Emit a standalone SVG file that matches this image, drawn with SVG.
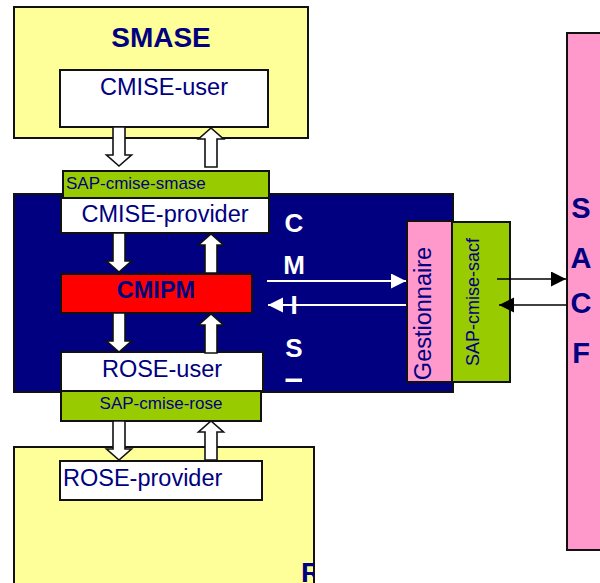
<svg xmlns="http://www.w3.org/2000/svg" xmlns:xlink="http://www.w3.org/1999/xlink" width="600" height="583" viewBox="0 0 600 583">
<style>
text{font-family:"Liberation Sans",Arial,sans-serif;fill:#000080}
.box{stroke:#111;stroke-width:2}
.yel{fill:#FFFF99}
.wht{fill:#fff}
.grn{fill:#99CC00}
.pnk{fill:#FF99CC}
.navy{fill:#000080}
.red{fill:#FF0000}
.blk{stroke:#111;stroke-width:1.6;fill:#fff}
.lbl{font-size:23.5px}
.sap{font-size:17px}
.bold{font-weight:bold}
.wl{fill:#fff;font-weight:bold;font-size:26px}
.sl{font-weight:bold;font-size:29px}
.wline{stroke:#fff;stroke-width:2;fill:none}
.kline{stroke:#000;stroke-width:1.6;fill:none}
</style>
<defs>
<path id="dn" d="M-6,0 H6 V28 H12.5 L0,39 L-12.5,28 H-6 Z"/>
<path id="up" d="M-6,39 H6 V11 H12.5 L0,0 L-12.5,11 H-6 Z"/>
<marker id="mw" markerUnits="userSpaceOnUse" markerWidth="16" markerHeight="16" refX="15" refY="7.5" orient="auto"><path d="M0,0 L15,7.5 L0,15 Z" fill="#fff"/></marker>
<marker id="mk" markerUnits="userSpaceOnUse" markerWidth="16" markerHeight="16" refX="15" refY="7.5" orient="auto"><path d="M0,0 L15,7.5 L0,15 Z" fill="#000"/></marker>
<clipPath id="rclip"><rect x="14" y="447" width="300" height="140"/></clipPath>
</defs>

<g id="smase">
<rect class="box yel" x="14" y="7" width="294" height="131"/>
<text class="bold" x="161" y="47" font-size="28" text-anchor="middle">SMASE</text>
</g>
<g id="cmise-user">
<rect class="box wht" x="60" y="70" width="208" height="57"/>
<text class="lbl" x="164" y="95" text-anchor="middle">CMISE-user</text>
</g>

<g id="rose-area">
<rect class="box yel" x="14" y="447" width="300" height="145"/>
<text class="bold" x="301" y="582" font-size="28" clip-path="url(#rclip)">R</text>
</g>

<g id="cmis">
<rect class="box navy" x="14" y="194" width="439" height="198"/>
<text class="wl" x="294" y="232" text-anchor="middle">C</text>
<text class="wl" x="294" y="274" text-anchor="middle">M</text>
<text class="wl" x="294" y="314" text-anchor="middle">I</text>
<text class="wl" x="294" y="357" text-anchor="middle">S</text>
<rect x="285.5" y="378.5" width="16.5" height="3.5" fill="#fff"/>
</g>

<g id="sap-cmise-smase">
<rect class="box grn" x="63" y="171" width="206" height="28"/>
<text class="sap" x="66" y="189">SAP-cmise-smase</text>
</g>
<g id="cmise-provider">
<rect class="box wht" x="61" y="198" width="208" height="35"/>
<text class="lbl" x="165" y="222" text-anchor="middle">CMISE-provider</text>
</g>
<g id="cmipm">
<rect class="box red" x="61" y="274" width="191" height="39"/>
<text class="lbl bold" x="156" y="298" text-anchor="middle">CMIPM</text>
</g>
<g id="rose-user">
<rect class="box wht" x="61" y="352" width="202" height="39"/>
<text class="lbl" x="162" y="377" text-anchor="middle">ROSE-user</text>
</g>
<g id="sap-cmise-rose">
<rect class="box grn" x="61" y="391" width="200" height="30"/>
<text class="sap" x="161" y="409" text-anchor="middle">SAP-cmise-rose</text>
</g>
<g id="rose-provider">
<rect class="box wht" x="60" y="461" width="202" height="39"/>
<text class="lbl" x="63" y="486">ROSE-provider</text>
</g>

<g id="gestionnaire">
<rect class="box pnk" x="407" y="221" width="45" height="161"/>
<text class="lbl" transform="translate(431,313.5) rotate(-90)" text-anchor="middle">Gestionnaire</text>
</g>
<g id="sap-cmise-sacf">
<rect class="box grn" x="452" y="222" width="58" height="160"/>
<text transform="translate(479,302) rotate(-90)" text-anchor="middle" font-size="18">SAP-cmise-sacf</text>
</g>

<g id="sacf">
<rect class="box pnk" x="567" y="33" width="40" height="517"/>
<text class="sl" x="581" y="218" text-anchor="middle">S</text>
<text class="sl" x="581" y="268" text-anchor="middle">A</text>
<text class="sl" x="581" y="313" text-anchor="middle">C</text>
<text class="sl" x="581" y="363" text-anchor="middle">F</text>
</g>

<g id="connectors">
<use xlink:href="#dn" class="blk" x="119" y="127"/>
<use xlink:href="#up" class="blk" x="211" y="128"/>
<use xlink:href="#dn" class="blk" x="119" y="233"/>
<use xlink:href="#up" class="blk" x="211" y="234"/>
<use xlink:href="#dn" class="blk" x="119" y="313"/>
<use xlink:href="#up" class="blk" x="211" y="314"/>
<use xlink:href="#dn" class="blk" x="119" y="421"/>
<use xlink:href="#up" class="blk" x="211" y="421"/>
<line class="wline" x1="267" y1="281" x2="406" y2="281" marker-end="url(#mw)"/>
<line class="wline" x1="406" y1="305" x2="268" y2="305" marker-end="url(#mw)"/>
<line class="kline" x1="497" y1="279" x2="566" y2="279" marker-end="url(#mk)"/>
<line class="kline" x1="566" y1="305" x2="499" y2="305" marker-end="url(#mk)"/>
</g>
</svg>
